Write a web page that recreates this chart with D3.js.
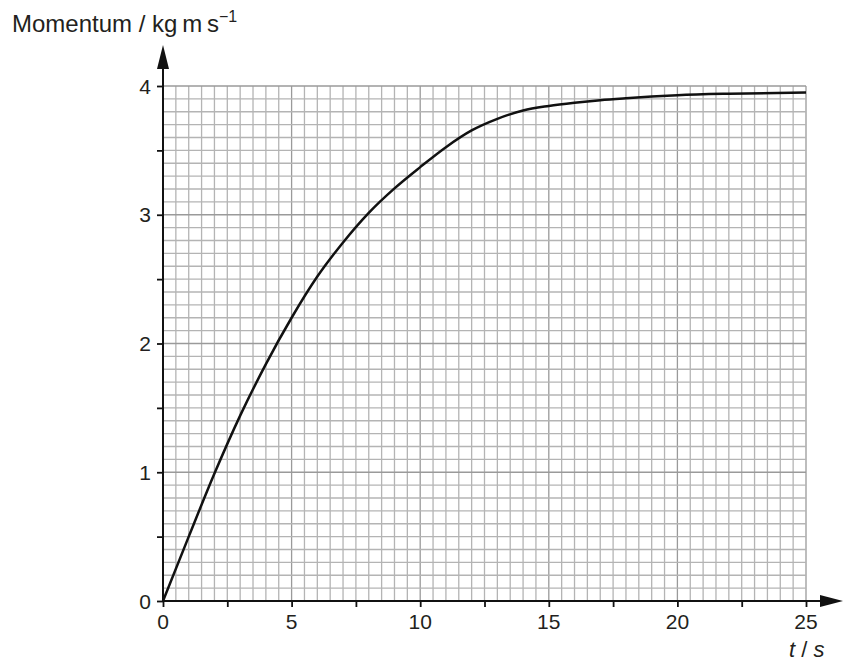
<!DOCTYPE html>
<meta charset="utf-8">
<style>
body { margin: 0; background: #fff; }
text { font-family: "Liberation Sans", Arial, sans-serif; fill: #231f20; }
.grid line { stroke: #b4b4b4; stroke-width: 1.3; }
.grid line.major { stroke: #9a9a9a; }
</style>
<body>
<svg id="chart" width="843" height="661"></svg>
<script src="https://d3js.org/d3.v7.min.js"></script>
<script>
// momentum against time
var times = [0, 1, 2, 3, 4, 5, 6, 7, 8, 9, 10, 11, 12, 13, 14, 15, 16, 17, 18, 19, 20, 22, 25];
var momentum = [0, 0.50, 0.99, 1.44, 1.84, 2.20, 2.52, 2.785, 3.015, 3.205, 3.37, 3.525, 3.655, 3.745, 3.81, 3.845, 3.87, 3.89, 3.905, 3.918, 3.928, 3.94, 3.95];
var xTicks = [0, 5, 10, 15, 20, 25];
var yTicks = [0, 1, 2, 3, 4];

var svg = d3.select("#chart");
var x = d3.scaleLinear().domain([0, 25]).range([163, 806]);
var y = d3.scaleLinear().domain([0, 4]).range([601, 86]);

// graph paper
var grid = svg.append("g").attr("class", "grid");
grid.selectAll("line.v")
    .data(d3.range(0, 25.01, 0.5))
  .enter().append("line")
    .attr("class", function(d) { return d % 5 == 0 ? "v major" : "v"; })
    .attr("x1", function(d) { return x(d); })
    .attr("x2", function(d) { return x(d); })
    .attr("y1", y(0))
    .attr("y2", y(4));
grid.selectAll("line.h")
    .data(d3.range(0, 41).map(function(i) { return i / 10; }))
  .enter().append("line")
    .attr("class", function(d, i) { return i % 10 == 0 ? "h major" : "h"; })
    .attr("x1", x(0))
    .attr("x2", x(25))
    .attr("y1", function(d) { return y(d); })
    .attr("y2", function(d) { return y(d); });

// axes with arrow heads
var xAxis = d3.axisBottom(x).tickValues(d3.range(0, 25.01, 2.5)).tickSize(6).tickFormat("");
var yAxis = d3.axisLeft(y).tickValues(d3.range(0, 4.01, 0.5)).tickSize(6).tickFormat("");
var gx = svg.append("g").attr("transform", "translate(0," + y(0) + ")").call(xAxis);
var gy = svg.append("g").attr("transform", "translate(" + x(0) + ",0)").call(yAxis);
gx.select(".domain").remove();
gy.select(".domain").remove();
svg.selectAll(".tick line").attr("stroke", "#111").attr("stroke-width", 1.8);

svg.append("line")
    .attr("x1", x(0) - 1).attr("x2", 824)
    .attr("y1", y(0)).attr("y2", y(0))
    .attr("stroke", "#111").attr("stroke-width", 2);
svg.append("line")
    .attr("x1", x(0)).attr("x2", x(0))
    .attr("y1", y(0) + 1).attr("y2", 66)
    .attr("stroke", "#111").attr("stroke-width", 2);
svg.append("path")
    .attr("d", "M843," + y(0) + "L820," + (y(0) - 6) + "L820," + (y(0) + 6) + "Z")
    .attr("fill", "#111");
svg.append("path")
    .attr("d", "M" + x(0) + ",45L" + (x(0) - 6) + ",69L" + (x(0) + 6) + ",69Z")
    .attr("fill", "#111");

// tick labels
svg.selectAll("text.xl")
    .data(xTicks)
  .enter().append("text")
    .attr("class", "xl")
    .attr("x", function(d) { return x(d); })
    .attr("y", 629)
    .attr("text-anchor", "middle")
    .style("font-size", "21px")
    .text(function(d) { return d; });
svg.selectAll("text.yl")
    .data(yTicks)
  .enter().append("text")
    .attr("class", "yl")
    .attr("x", 151)
    .attr("y", function(d) { return y(d) + 7.5; })
    .attr("text-anchor", "end")
    .style("font-size", "21px")
    .text(function(d) { return d; });

// axis titles
var ttl = svg.append("text").attr("x", 12).attr("y", 32).style("font-size", "24px");
ttl.append("tspan").text("Momentum / kg\u2009m\u2009s");
ttl.append("tspan").attr("dy", -10).style("font-size", "16px").text("\u22121");

var tl = svg.append("text").attr("x", 789).attr("y", 657).style("font-size", "22px");
tl.append("tspan").style("font-style", "italic").text("t");
tl.append("tspan").text(" / ");
tl.append("tspan").style("font-style", "italic").text("s");

// curve
var line = d3.line()
    .x(function(d, i) { return x(times[i]); })
    .y(function(d) { return y(d); })
    .curve(d3.curveMonotoneX);
svg.append("path")
    .datum(momentum)
    .attr("d", line)
    .attr("fill", "none")
    .attr("stroke", "#111")
    .attr("stroke-width", 2.5);
</script>
</body>
